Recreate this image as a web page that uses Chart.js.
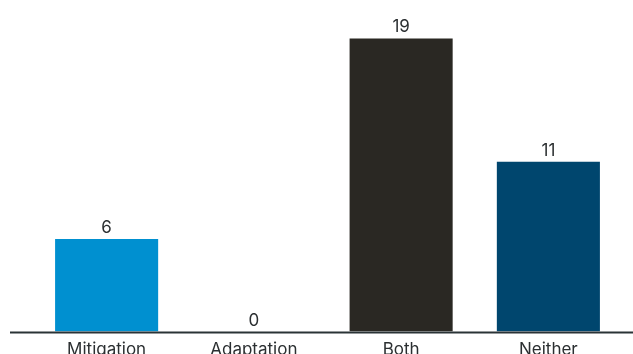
<!DOCTYPE html>
<html>
<head>
<meta charset="utf-8">
<script src="https://cdn.jsdelivr.net/npm/chart.js@4"></script>
<style>
  html, body { margin: 0; padding: 0; background: #fff; }
  #wrap { width: 633px; height: 354px; overflow: hidden; }
</style>
</head>
<body>
<div id="wrap"><canvas id="chart" width="633" height="360"></canvas></div>
<script>
// Data
const categories = ["Mitigation", "Adaptation", "Both", "Neither"];
const counts = [6, 0, 19, 11];
const barColors = ["#0090d0", "#0090d0", "#2a2823", "#00466e"];

const textColor = "#2b2f31";
const fontFamily = "Inter, Lato, sans-serif";

/* =========================
   VALUE LABELS + BASELINE
========================= */
const valueLabels = {
  id: "valueLabels",
  afterDatasetsDraw(chart) {
    const ctx = chart.ctx;
    const meta = chart.getDatasetMeta(0);
    ctx.save();
    ctx.font = "17px " + fontFamily;
    ctx.fillStyle = textColor;
    ctx.textAlign = "center";
    ctx.textBaseline = "alphabetic";
    meta.data.forEach((bar, i) => {
      ctx.fillText(String(counts[i]), bar.x, bar.y - 6);
    });
    ctx.restore();
  }
};

const baseLine = {
  id: "baseLine",
  afterDatasetsDraw(chart) {
    const ctx = chart.ctx;
    const y = chart.chartArea.bottom + 1;
    ctx.save();
    ctx.strokeStyle = "#2a3336";
    ctx.lineWidth = 2;
    ctx.beginPath();
    ctx.moveTo(10, y);
    ctx.lineTo(chart.width, y);
    ctx.stroke();
    ctx.restore();
  }
};

new Chart(document.getElementById("chart"), {
  type: "bar",
  data: {
    labels: categories,
    datasets: [{
      data: counts,
      backgroundColor: barColors,
      barPercentage: 0.7,
      categoryPercentage: 1
    }]
  },
  options: {
    responsive: false,
    animation: false,
    layout: { padding: { left: 33, right: 11, top: 23, bottom: 0 } },
    plugins: { legend: { display: false }, tooltip: { enabled: false } },
    scales: {
      x: {
        grid: { display: false },
        border: { display: false },
        ticks: {
          color: textColor,
          font: { family: fontFamily, size: 17 },
          padding: 0
        }
      },
      y: {
        display: false,
        min: 0,
        max: 20
      }
    }
  },
  plugins: [valueLabels, baseLine]
});
</script>
</body>
</html>
